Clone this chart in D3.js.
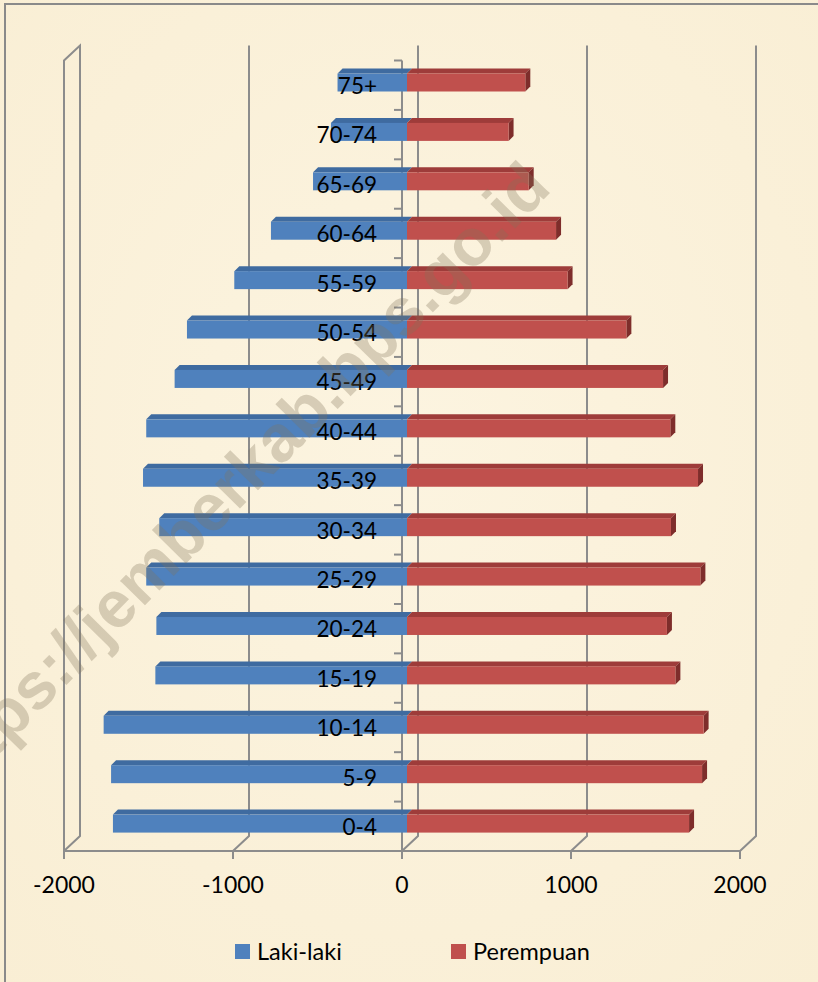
<!DOCTYPE html>
<html>
<head>
<meta charset="utf-8">
<script src="https://cdn.jsdelivr.net/npm/d3@7"></script>
<style>
  html, body { margin: 0; padding: 0; background: #FBF2DC; }
  svg { display: block; }
</style>
</head>
<body>
<svg id="chart" width="818" height="982"></svg>
<script>
const categories = ["75+","70-74","65-69","60-64","55-59","50-54","45-49","40-44","35-39","30-34","25-29","20-24","15-19","10-14","5-9","0-4"];
const lakiLaki  = [411,450,556,805,1022,1302,1375,1543,1562,1466,1543,1483,1489,1795,1751,1740];
const perempuan = [700,601,720,882,950,1298,1515,1558,1722,1562,1736,1538,1588,1755,1746,1669];
const xTicks = [-2000,-1000,0,1000,2000];
const seriesNames = ["Laki-laki","Perempuan"];
const watermark = "https://jemberkab.bps.go.id";

const svg = d3.select("#chart");
const W = 818, H = 982;

// background
const defs = svg.append("defs");
const g1 = defs.append("radialGradient").attr("id","bg").attr("cx","50%").attr("cy","45%").attr("r","75%");
g1.append("stop").attr("offset","0%").attr("stop-color","#FCF4E0");
g1.append("stop").attr("offset","100%").attr("stop-color","#F9EED4");
svg.append("rect").attr("width",W).attr("height",H).attr("fill","url(#bg)");
// outer border (top & left visible)
svg.append("rect").attr("x",5).attr("y",4).attr("width",W+10).attr("height",H+10)
  .attr("fill","none").attr("stroke","#8A8A8A").attr("stroke-width",2);

const x = d3.scaleLinear().domain([-2000,2000]).range([64,740]);
const y = d3.scaleBand().domain(categories).range([60.5,851]);
const DX = 16, DY = 15;          // depth of the 3D box
const FRONT_TOP = 60.5, FRONT_BOT = 851;
const gridCol = "#8C8C8C";

const axes = svg.append("g").attr("fill","none").attr("stroke",gridCol).attr("stroke-width",2);

// back wall gridlines + floor slants
xTicks.forEach(t => {
  const xf = x(t);
  if (t === -2000) {
    axes.append("path").attr("d",
      `M${xf},${FRONT_BOT} L${xf},${FRONT_TOP} L${xf+DX},${FRONT_TOP-DY} L${xf+DX},${FRONT_BOT-DY} L${xf},${FRONT_BOT}`);
  } else {
    axes.append("path").attr("d",
      `M${xf+DX},${FRONT_TOP-DY} L${xf+DX},${FRONT_BOT-DY} L${xf},${FRONT_BOT}`);
  }
});

// front horizontal axis
axes.append("line").attr("x1",x(-2000)).attr("x2",x(2000)).attr("y1",FRONT_BOT).attr("y2",FRONT_BOT);
xTicks.forEach(t => {
  axes.append("line").attr("x1",x(t)).attr("x2",x(t)).attr("y1",FRONT_BOT).attr("y2",FRONT_BOT+8);
});

// bars
const S = 5; // bar depth offset
const BAR_OFF = 13, BAR_H = 18;
const blueFront = "#4F81BD", blueTop = "#3F6BA0";
const redFront = "#C0504D", redTop = "#9E3C3A", redSide = "#7E2D2B";
const bars = svg.append("g");

categories.forEach((c, i) => {
  const yb = y(c) + BAR_OFF;
  const xl = x(-lakiLaki[i]) + S, x0 = x(0) + S;
  bars.append("path").attr("fill", blueTop)
    .attr("d", `M${xl},${yb} L${xl+S},${yb-S} L${x0+S},${yb-S} L${x0},${yb} Z`);
  bars.append("rect").attr("x", xl).attr("y", yb).attr("width", x0 - xl).attr("height", BAR_H)
    .attr("fill", blueFront);
  const xr = x(perempuan[i]) + S;
  bars.append("path").attr("fill", redTop)
    .attr("d", `M${x0},${yb} L${x0+S},${yb-S} L${xr+S},${yb-S} L${xr},${yb} Z`);
  bars.append("path").attr("fill", redSide)
    .attr("d", `M${xr},${yb} L${xr+S},${yb-S} L${xr+S},${yb+BAR_H-S} L${xr},${yb+BAR_H} Z`);
  bars.append("rect").attr("x", x0).attr("y", yb).attr("width", xr - x0).attr("height", BAR_H)
    .attr("fill", redFront);
});

// vertical category axis (front) with ticks at band boundaries
const vx = x(0);
axes.append("line").attr("x1",vx).attr("x2",vx).attr("y1",FRONT_TOP).attr("y2",FRONT_BOT);
categories.forEach(c => {
  axes.append("line").attr("x1",vx-8).attr("x2",vx).attr("y1",y(c)).attr("y2",y(c));
});

// category labels
const font = "Lato, 'Open Sans', sans-serif";
svg.append("g").selectAll("text").data(categories).join("text")
  .attr("x", 377).attr("y", d => y(d) + 33.5)
  .attr("text-anchor","end").attr("font-family",font).attr("font-size","22.5px").attr("fill","#000")
  .text(d => d);

// x tick labels
svg.append("g").selectAll("text").data(xTicks).join("text")
  .attr("x", d => x(d)).attr("y", 893)
  .attr("text-anchor","middle").attr("font-family",font).attr("font-size","23px").attr("fill","#000")
  .text(d => d);

// legend
const leg = svg.append("g");
const legX = [235, 451], legCol = [blueFront, redFront];
seriesNames.forEach((n, i) => {
  leg.append("rect").attr("x", legX[i]).attr("y", 944).attr("width", 15).attr("height", 15).attr("fill", legCol[i]);
  leg.append("text").attr("x", legX[i] + 22).attr("y", 960)
    .attr("font-family",font).attr("font-size","23.5px").attr("fill","#000").text(n);
});

// watermark
svg.append("text")
  .attr("transform","translate(553,190) rotate(-45.5)")
  .attr("text-anchor","end")
  .attr("font-family","'Liberation Sans', Arial, sans-serif").attr("font-weight","bold")
  .attr("font-size","66px").attr("fill","rgb(130,115,90)").attr("fill-opacity",0.3)
  .text(watermark);
</script>
</body>
</html>
